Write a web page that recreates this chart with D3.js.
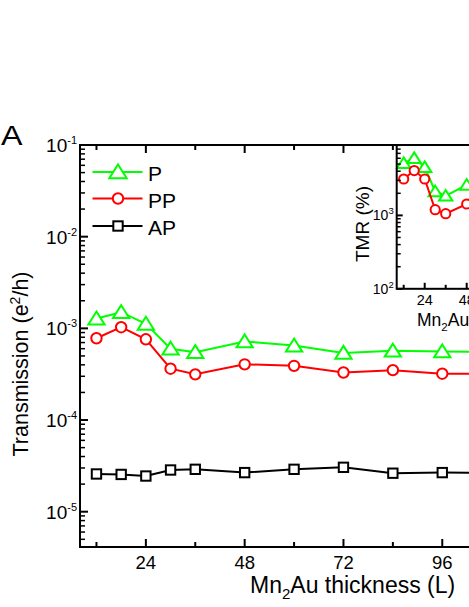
<!DOCTYPE html>
<html lang="en">
<head>
    <meta charset="UTF-8">
    <title>Transmission vs Mn2Au thickness</title>
    <style>
        body{ margin: 0; overflow: hidden; background: #fff; }
        svg text{ font-family: "Liberation Sans", Arial, sans-serif; fill: #000; }
    </style>
</head>
<body>
    <script src="https://d3js.org/d3.v7.min.js"></script>
    <script>
        // data
        const thickness = [12, 18, 24, 30, 36, 48, 60, 72, 84, 96, 108];
        const transP  = [1.28e-3, 1.5e-3, 1.12e-3, 6.0e-4, 5.5e-4, 7.2e-4, 6.5e-4, 5.4e-4, 5.7e-4, 5.6e-4, 5.5e-4];
        const transPP = [7.8e-4, 1.03e-3, 7.6e-4, 3.63e-4, 3.15e-4, 4.05e-4, 3.9e-4, 3.3e-4, 3.5e-4, 3.2e-4, 3.2e-4];
        const transAP = [2.58e-5, 2.55e-5, 2.45e-5, 2.85e-5, 2.9e-5, 2.67e-5, 2.9e-5, 3.05e-5, 2.63e-5, 2.67e-5, 2.65e-5];
        const tmrP  = [5150, 6030, 4550, 2120, 1850, 2610, 2140, 1670, 2070, 2000, 2000];
        const tmrPP = [3130, 4080, 3130, 1195, 1055, 1430, 1245, 980, 1230, 1100, 1100];
        const yTickExp = [-1, -2, -3, -4, -5];
        const xTicks = [24, 48, 72, 96, 120];
        const insetYExp = [2, 3];
        const insetXTicks = [24, 48, 72, 96];

        const width = 469, height = 607;
        const svg = d3.select('body').append('svg')
            .attr('width', width)
            .attr('height', height);

        const green = '#00ff00', red = '#ff0000', black = '#000';

        // main scales
        const x = d3.scaleLinear().domain([8, 128]).range([80, 574]);
        const y = d3.scaleLog().domain([Math.pow(10, -5.385), 1e-1]).range([547, 145]);

        function marker(g, type, s) {
            if (type === 'tri') {
                return g.append('path').attr('d', `M0,${-s * 0.5}L${s * 0.58},${s * 0.42}L${-s * 0.58},${s * 0.42}Z`);
            } else if (type === 'circ') {
                return g.append('circle').attr('r', s * 0.4);
            }
            return g.append('rect').attr('x', -s * 0.36).attr('y', -s * 0.36).attr('width', s * 0.72).attr('height', s * 0.72);
        }

        function drawSeries(parent, xs, ys, xv, yv, color, type, s, lw) {
            const pts = xv.map((d, i) => [xs(d), ys(yv[i])]);
            parent.append('path')
                .attr('d', d3.line()(pts))
                .attr('fill', 'none')
                .attr('stroke', color)
                .attr('stroke-width', lw);
            pts.forEach(p => {
                const g = parent.append('g').attr('transform', `translate(${p[0]},${p[1]})`);
                marker(g, type, s).attr('fill', '#fff').attr('stroke', color).attr('stroke-width', lw);
            });
        }

        function logMinor(lo, hi) {
            const out = [];
            for (let e = lo; e < hi; e++) {
                for (let k = 2; k <= 9; k++) out.push(k * Math.pow(10, e));
            }
            return out;
        }

        const main = svg.append('g');

        // series
        drawSeries(main, x, y, thickness, transAP, black, 'sq', 13, 2);
        drawSeries(main, x, y, thickness, transPP, red, 'circ', 13, 2);
        drawSeries(main, x, y, thickness, transP, green, 'tri', 14, 2);

        // main frame + ticks
        const [x0, x1] = x.range();
        const [yb, yt] = y.range();
        main.append('rect').attr('x', x0).attr('y', yt).attr('width', x1 - x0).attr('height', yb - yt)
            .attr('fill', 'none').attr('stroke', black).attr('stroke-width', 2);

        const yMajor = yTickExp.map(e => Math.pow(10, e));
        const yMinor = logMinor(-6, -1).filter(v => v >= y.domain()[0] && v <= 1e-1);
        main.selectAll('.ymaj').data(yMajor).enter().append('line')
            .attr('x1', x0).attr('x2', x0 + 8).attr('y1', d => y(d)).attr('y2', d => y(d))
            .attr('stroke', black).attr('stroke-width', 2);
        main.selectAll('.ymin').data(yMinor).enter().append('line')
            .attr('x1', x0).attr('x2', x0 + 5).attr('y1', d => y(d)).attr('y2', d => y(d))
            .attr('stroke', black).attr('stroke-width', 1.5);

        const xMinor = d3.range(12, 128, 24);
        [yb, yt].forEach((yy, k) => {
            const dir = k === 0 ? -1 : 1;
            main.selectAll(null).data(xTicks).enter().append('line')
                .attr('x1', d => x(d)).attr('x2', d => x(d)).attr('y1', yy).attr('y2', yy + dir * 8)
                .attr('stroke', black).attr('stroke-width', 2);
            main.selectAll(null).data(xMinor).enter().append('line')
                .attr('x1', d => x(d)).attr('x2', d => x(d)).attr('y1', yy).attr('y2', yy + dir * 5)
                .attr('stroke', black).attr('stroke-width', 2);
        });

        // tick labels
        yTickExp.forEach(e => {
            const t = main.append('text').attr('x', x0 - 3).attr('y', y(Math.pow(10, e)) + 7)
                .attr('text-anchor', 'end').style('font-size', '19px');
            t.append('tspan').text('10');
            t.append('tspan').attr('dy', -8).style('font-size', '11px').text(String(e));
        });
        main.selectAll('.xl').data(xTicks).enter().append('text')
            .attr('x', d => x(d)).attr('y', 569).attr('text-anchor', 'middle')
            .style('font-size', '18.5px').text(d => d);

        // axis titles
        const xt = main.append('text').attr('x', 250).attr('y', 593).style('font-size', '23px');
        xt.append('tspan').text('Mn');
        xt.append('tspan').attr('dy', 6).style('font-size', '15px').text('2');
        xt.append('tspan').attr('dy', -6).text('Au thickness (L)');

        const yt2 = main.append('text').attr('transform', 'translate(28,364) rotate(-90)')
            .attr('text-anchor', 'middle').style('font-size', '21.5px');
        yt2.append('tspan').text('Transmission (e');
        yt2.append('tspan').attr('dy', -8).style('font-size', '14px').text('2');
        yt2.append('tspan').attr('dy', 8).text('/h)');

        svg.append('text').attr('transform', 'translate(1,145) scale(1.15,1)')
            .style('font-size', '28px').text('A');

        // legend
        const legend = [
            { name: 'P', color: green, type: 'tri', y: 172 },
            { name: 'PP', color: red, type: 'circ', y: 198.5 },
            { name: 'AP', color: black, type: 'sq', y: 226 }
        ];
        legend.forEach(l => {
            main.append('line').attr('x1', 92.5).attr('x2', 142.5).attr('y1', l.y).attr('y2', l.y)
                .attr('stroke', l.color).attr('stroke-width', 2);
            const g = main.append('g').attr('transform', `translate(118,${l.y})`);
            marker(g, l.type, l.type === 'tri' ? 15 : 13).attr('fill', '#fff').attr('stroke', l.color).attr('stroke-width', 2);
            main.append('text').attr('x', 148).attr('y', l.y + 9).style('font-size', '21px').text(l.name);
        });

        // inset
        const ix = d3.scaleLinear().domain([8, 104]).range([396.7, 564.7]);
        const iy = d3.scaleLog().domain([100, 9100]).range([288.8, 145]);
        const inset = svg.append('g');
        const [ix0, ix1] = ix.range();
        const [iyb, iyt] = iy.range();
        inset.append('rect').attr('x', ix0).attr('y', iyt).attr('width', ix1 - ix0).attr('height', iyb - iyt)
            .attr('fill', '#fff');

        drawSeries(inset, ix, iy, thickness, tmrP, green, 'tri', 11.5, 2);
        drawSeries(inset, ix, iy, thickness, tmrPP, red, 'circ', 11.5, 2);
        inset.append('rect').attr('x', ix0).attr('y', iyt).attr('width', ix1 - ix0).attr('height', iyb - iyt)
            .attr('fill', 'none').attr('stroke', black).attr('stroke-width', 2);

        const iyMinor = logMinor(2, 4).filter(v => v <= iy.domain()[1]);
        inset.selectAll(null).data(insetYExp.map(e => Math.pow(10, e))).enter().append('line')
            .attr('x1', ix0).attr('x2', ix0 + 6).attr('y1', d => iy(d)).attr('y2', d => iy(d))
            .attr('stroke', black).attr('stroke-width', 2);
        inset.selectAll(null).data(iyMinor).enter().append('line')
            .attr('x1', ix0).attr('x2', ix0 + 4).attr('y1', d => iy(d)).attr('y2', d => iy(d))
            .attr('stroke', black).attr('stroke-width', 1.5);
        inset.selectAll(null).data(insetXTicks).enter().append('line')
            .attr('x1', d => ix(d)).attr('x2', d => ix(d)).attr('y1', iyb).attr('y2', iyb - 6)
            .attr('stroke', black).attr('stroke-width', 2);
        inset.selectAll(null).data(d3.range(12, 104, 24)).enter().append('line')
            .attr('x1', d => ix(d)).attr('x2', d => ix(d)).attr('y1', iyb).attr('y2', iyb - 4)
            .attr('stroke', black).attr('stroke-width', 2);

        insetYExp.forEach(e => {
            const t = inset.append('text').attr('x', ix0 - 3).attr('y', iy(Math.pow(10, e)) + 5)
                .attr('text-anchor', 'end').style('font-size', '14px');
            t.append('tspan').text('10');
            t.append('tspan').attr('dy', -6).style('font-size', '9.5px').text(e);
        });
        inset.selectAll(null).data(insetXTicks).enter().append('text')
            .attr('x', d => ix(d)).attr('y', 305).attr('text-anchor', 'middle')
            .style('font-size', '14.5px').text(d => d);

        const ixt = inset.append('text').attr('x', 417).attr('y', 326).style('font-size', '17.5px');
        ixt.append('tspan').text('Mn');
        ixt.append('tspan').attr('dy', 5).style('font-size', '11.5px').text('2');
        ixt.append('tspan').attr('dy', -5).text('Au thickness (L)');

        inset.append('text').attr('transform', 'translate(369,224) rotate(-90)')
            .attr('text-anchor', 'middle').style('font-size', '19px').text('TMR (%)');
    </script>
</body>
</html>
